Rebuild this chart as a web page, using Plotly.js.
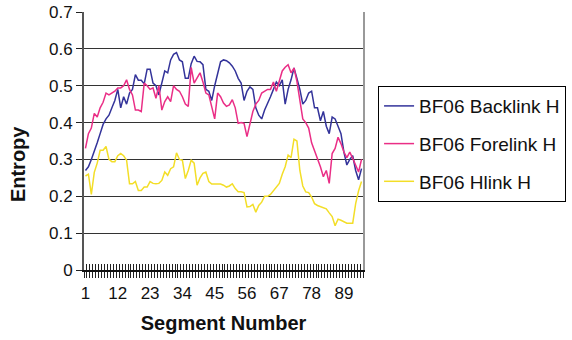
<!DOCTYPE html>
<html>
<head>
<meta charset="utf-8">
<script src="https://cdn.plot.ly/plotly-3.0.1.min.js"></script>
<style>
html,body{margin:0;padding:0;background:#fff;}
#chart{width:572px;height:340px;}
</style>
</head>
<body>
<div id="chart"></div>
<script>
// Segment numbers (categories)
const segments = Array.from({length: 95}, (_, i) => i + 1);
const xTickVals = [1, 12, 23, 34, 45, 56, 67, 78, 89];
const xTickText = ["1", "12", "23", "34", "45", "56", "67", "78", "89"];
const yTickVals = [0, 0.1, 0.2, 0.3, 0.4, 0.5, 0.6, 0.7];
const yTickText = ["0", "0.1", "0.2", "0.3", "0.4", "0.5", "0.6", "0.7"];

const backlink = [
  0.27,0.28,0.30,0.32,0.345,0.37,0.395,0.41,0.42,0.44,
  0.46,0.49,0.44,0.47,0.45,0.48,0.49,0.53,0.515,0.515,
  0.505,0.545,0.545,0.507,0.50,0.475,0.51,0.54,0.535,0.57,
  0.585,0.59,0.57,0.565,0.52,0.52,0.56,0.58,0.566,0.565,
  0.557,0.49,0.485,0.46,0.50,0.53,0.565,0.57,0.568,0.562,
  0.553,0.54,0.52,0.507,0.46,0.485,0.497,0.49,0.44,0.42,
  0.41,0.434,0.45,0.47,0.49,0.51,0.50,0.516,0.45,0.49,
  0.516,0.548,0.52,0.49,0.45,0.46,0.48,0.485,0.44,0.44,
  0.405,0.43,0.39,0.37,0.415,0.41,0.39,0.37,0.32,0.285,
  0.30,0.31,0.27,0.245,0.275
];
const forelink = [
  0.33,0.37,0.385,0.425,0.415,0.44,0.455,0.48,0.475,0.48,
  0.485,0.494,0.494,0.50,0.516,0.49,0.475,0.434,0.434,0.43,
  0.507,0.50,0.49,0.494,0.466,0.50,0.434,0.457,0.47,0.457,
  0.50,0.49,0.485,0.47,0.45,0.444,0.55,0.507,0.52,0.535,
  0.51,0.48,0.475,0.444,0.41,0.48,0.47,0.453,0.444,0.448,
  0.462,0.44,0.398,0.40,0.398,0.362,0.40,0.43,0.45,0.46,
  0.48,0.485,0.49,0.49,0.51,0.485,0.51,0.54,0.55,0.557,
  0.535,0.548,0.512,0.46,0.41,0.40,0.385,0.345,0.325,0.305,
  0.28,0.253,0.27,0.235,0.316,0.33,0.36,0.343,0.32,0.305,
  0.32,0.303,0.284,0.266,0.30
];
const hlink = [
  0.255,0.26,0.205,0.265,0.29,0.325,0.325,0.335,0.30,0.294,
  0.294,0.31,0.316,0.31,0.298,0.234,0.234,0.24,0.216,0.216,
  0.225,0.225,0.24,0.235,0.234,0.235,0.243,0.266,0.257,0.275,
  0.28,0.318,0.30,0.298,0.248,0.27,0.298,0.29,0.23,0.25,
  0.262,0.266,0.24,0.233,0.233,0.233,0.233,0.23,0.225,0.228,
  0.234,0.221,0.212,0.212,0.21,0.171,0.172,0.178,0.157,0.175,
  0.184,0.2,0.2,0.205,0.216,0.225,0.235,0.26,0.28,0.312,
  0.305,0.355,0.35,0.27,0.228,0.212,0.21,0.198,0.18,0.175,
  0.172,0.168,0.166,0.155,0.145,0.12,0.138,0.135,0.13,0.127,
  0.127,0.127,0.18,0.215,0.24
];

const FONT = 'Arial, "Liberation Sans", sans-serif';

const traces = [
  {x: segments, y: backlink, name: 'BF06 Backlink H', type: 'scatter', mode: 'lines',
   line: {color: '#33339a', width: 1.5}, legendgroup: 'a', xaxis: 'x', yaxis: 'y'},
  {x: segments, y: forelink, name: 'BF06 Forelink H', type: 'scatter', mode: 'lines',
   line: {color: '#ea2e86', width: 1.5}, legendgroup: 'b', xaxis: 'x', yaxis: 'y'},
  {x: segments, y: hlink, name: 'BF06 Hlink H', type: 'scatter', mode: 'lines',
   line: {color: '#f3de28', width: 1.5}, legendgroup: 'c', xaxis: 'x2', yaxis: 'y2'}
];

const layout = {
  width: 572, height: 340,
  margin: {l: 84, r: 209, t: 12, b: 70, autoexpand: false},
  paper_bgcolor: '#fff', plot_bgcolor: '#fff',
  font: {family: FONT, size: 17, color: '#111'},
  showlegend: true,
  legend: {
    x: 1.054, y: 0.713, xanchor: 'left', yanchor: 'top',
    bordercolor: '#000', borderwidth: 1, bgcolor: '#fff',
    font: {family: FONT, size: 19, color: '#111'},
    tracegroupgap: 10, traceorder: 'grouped'
  },
  xaxis: {
    range: [0.5, 95.5], fixedrange: true, automargin: false,
    tickmode: 'array', tickvals: xTickVals, ticktext: xTickText,
    ticks: '', ticklabelstandoff: 7,
    showgrid: false, zeroline: false,
    showline: true, linecolor: '#111', linewidth: 1.5,
    minor: {tick0: 0.5, dtick: 1, ticks: 'outside', ticklen: 6, tickwidth: 1, tickcolor: '#222', showgrid: false},
    tickfont: {family: FONT, size: 17, color: '#111'},
    title: {text: 'Segment Number', font: {family: FONT, size: 20, weight: 'bold', color: '#111'}, standoff: 14}
  },
  xaxis2: {
    range: [0.5, 95.5], overlaying: 'x', anchor: 'y2', side: 'bottom', fixedrange: true,
    tickmode: 'linear', tick0: 0.5, dtick: 1, ticks: 'inside', ticklen: 6, tickwidth: 1, tickcolor: '#222',
    showticklabels: false, showgrid: false, zeroline: false, showline: false
  },
  yaxis: {
    range: [0, 0.7], fixedrange: true, automargin: false,
    tickmode: 'array', tickvals: yTickVals, ticktext: yTickText,
    ticks: 'outside', ticklen: 6, tickwidth: 1, tickcolor: '#222',
    showgrid: true, gridcolor: '#333', gridwidth: 1,
    zeroline: false,
    showline: true, linecolor: '#555', linewidth: 2, mirror: false,
    tickfont: {family: FONT, size: 17, color: '#111'}
  },
  yaxis2: {
    range: [0, 0.7], overlaying: 'y', anchor: 'x2', side: 'right', fixedrange: true,
    showticklabels: false, ticks: '', showgrid: false, zeroline: false,
    showline: true, linecolor: '#999', linewidth: 1.5
  },
  annotations: [
    {text: 'Entropy', xref: 'paper', yref: 'paper', x: -0.237, y: 0.41,
     xanchor: 'center', yanchor: 'middle', textangle: -90, showarrow: false,
     font: {family: FONT, size: 20, weight: 'bold', color: '#111'}}
  ]
};

Plotly.newPlot('chart', traces, layout, {staticPlot: true, displayModeBar: false});
</script>
</body>
</html>
